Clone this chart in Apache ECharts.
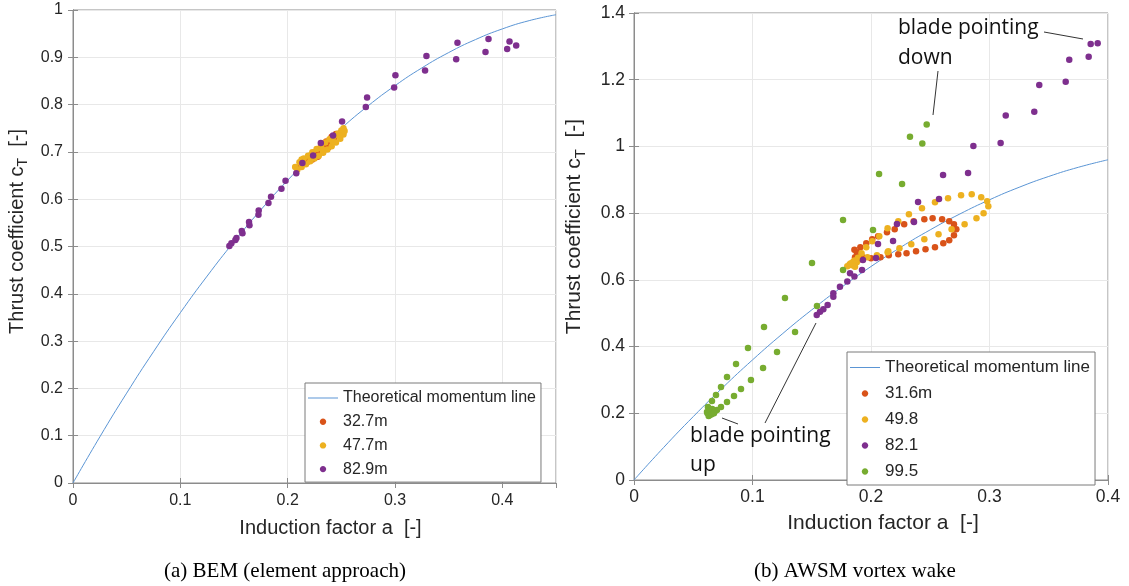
<!DOCTYPE html>
<html>
<head>
<meta charset="utf-8">
<script src="https://cdn.jsdelivr.net/npm/echarts@6/dist/echarts.min.js"></script>
<style>html,body{margin:0;padding:0;background:#fff}#c{width:1129px;height:586px}</style>
</head>
<body>
<div id="c"></div>
<script>
// ---------- Data ----------
// Theoretical momentum line: [a, cT]
const theoryLine = [[0,0],[0.025,0.0975],[0.05,0.19],[0.075,0.2775],[0.1,0.36],[0.125,0.4375],[0.15,0.51],[0.175,0.5775],[0.2,0.64],[0.225,0.6975],[0.25,0.75],[0.275,0.7975],[0.3,0.84],[0.325,0.8775],[0.35,0.91],[0.375,0.9375],[0.4,0.96],[0.425,0.9775],[0.45,0.99]];

// (a) BEM
const bemNames = ['32.7m','47.7m','82.9m'];
const bem32 = [[0.212,0.672],[0.216,0.680],[0.220,0.686],[0.224,0.692],[0.228,0.698],[0.231,0.704],[0.234,0.710],[0.237,0.716],[0.240,0.722],[0.243,0.728],[0.238,0.710],[0.233,0.700],[0.228,0.690],[0.223,0.684],[0.218,0.678],[0.226,0.700],[0.232,0.712],[0.236,0.722],[0.241,0.732],[0.245,0.738]];
const bem47 = [[0.207,0.668],[0.211,0.678],[0.215,0.686],[0.219,0.692],[0.223,0.699],[0.227,0.706],[0.231,0.713],[0.235,0.720],[0.239,0.727],[0.243,0.733],[0.247,0.739],[0.250,0.745],[0.252,0.750],
  [0.209,0.662],[0.213,0.668],[0.217,0.674],[0.221,0.680],[0.225,0.686],[0.229,0.692],[0.233,0.698],[0.237,0.705],[0.241,0.712],[0.245,0.720],[0.249,0.728],[0.252,0.737],[0.253,0.744],
  [0.213,0.684],[0.222,0.694],[0.232,0.706],[0.242,0.722],[0.248,0.735]];
const bem82 = [[0.1457,0.501],[0.1476,0.507],[0.1513,0.514],[0.1523,0.518],[0.1572,0.533],[0.1579,0.528],[0.164,0.552],[0.1644,0.545],[0.173,0.576],[0.1728,0.567],[0.1821,0.592],[0.1845,0.605],[0.1942,0.622],[0.198,0.639],
  [0.208,0.655],[0.2137,0.6765],[0.2237,0.6926],[0.2309,0.7188],[0.2423,0.7349],[0.2507,0.7645],[0.2728,0.795],[0.274,0.815],[0.2992,0.836],[0.3004,0.862],[0.328,0.872],[0.3293,0.9027],[0.357,0.896],[0.3582,0.931],[0.3843,0.911],[0.3871,0.9387],[0.4045,0.9175],[0.4067,0.9336],[0.4129,0.925]];

// (b) AWSM
const awsmNames = ['31.6m','49.8','82.1','99.5'];
const awsm31 = [[0.220,0.752],[0.228,0.767],[0.236,0.776],[0.245,0.782],[0.252,0.785],[0.260,0.782],[0.266,0.776],[0.270,0.767],[0.272,0.752],[0.270,0.734],[0.266,0.719],[0.261,0.710],[0.254,0.698],[0.246,0.692],[0.238,0.686],[0.230,0.680],[0.223,0.677],[0.215,0.674],[0.208,0.668],[0.200,0.665],[0.193,0.668],
  [0.2135,0.743],[0.206,0.731],[0.201,0.722],[0.196,0.710],[0.191,0.698],[0.188,0.683],[0.1865,0.668],[0.186,0.690],[0.1895,0.660]];
const awsm49 = [[0.254,0.833],[0.265,0.845],[0.276,0.854],[0.285,0.857],[0.293,0.848],[0.298,0.836],[0.299,0.821],[0.295,0.800],[0.289,0.785],[0.279,0.767],[0.268,0.752],[0.257,0.737],[0.245,0.722],[0.234,0.707],[0.224,0.695],[0.214,0.683],[0.205,0.674],[0.197,0.668],[0.188,0.653],[0.184,0.644],
  [0.243,0.815],[0.232,0.797],[0.223,0.776],[0.214,0.755],[0.207,0.731],[0.201,0.716],[0.196,0.698],[0.192,0.680],
  [0.182,0.647],[0.185,0.654],[0.1865,0.639],[0.180,0.641],[0.183,0.650],[0.186,0.658],[0.189,0.666],[0.2146,0.686]];
const awsm82 = [[0.3854,1.307],[0.3913,1.309],[0.3837,1.269],[0.3673,1.260],[0.3643,1.194],[0.342,1.184],[0.3378,1.104],[0.3137,1.093],[0.3094,1.010],[0.2864,1.001],
  [0.2608,0.9143],[0.2819,0.9203],[0.2397,0.8333],[0.2574,0.8423],[0.2219,0.7674],[0.2363,0.7734],[0.2186,0.7164],[0.2059,0.7074],[0.2042,0.6655],[0.1932,0.6595],[0.1924,0.6295],[0.1823,0.6196],
  [0.180,0.595],[0.186,0.610],[0.1738,0.5795],[0.1682,0.5597],[0.1682,0.5495],[0.1634,0.5246],[0.1598,0.5117],[0.157,0.5045],[0.1542,0.4946]];
const awsm99 = [[0.247,1.066],[0.2329,1.029],[0.2433,1.009],[0.2068,0.9173],[0.2262,0.8873],[0.1764,0.7794],[0.2017,0.7494],[0.1502,0.6505],[0.1764,0.6295],
  [0.1274,0.5456],[0.1544,0.5216],[0.1097,0.4586],[0.1359,0.4436],[0.0962,0.3957],[0.1207,0.3837],[0.0861,0.3477],[0.1089,0.3357],[0.0785,0.3088],[0.0987,0.2998],[0.0734,0.2788],[0.0903,0.2728],[0.0692,0.2548],[0.0844,0.2518],[0.0658,0.2368],[0.0785,0.2338],[0.0734,0.2188],[0.070,0.2098],[0.0624,0.2188],[0.0616,0.2038],[0.0641,0.1948],
  [0.062,0.200],[0.064,0.208],[0.066,0.213],[0.068,0.205],[0.063,0.192],[0.0655,0.197],[0.0675,0.200]];

const lineName = 'Theoretical momentum line';
const leftXTicks = {min:0, max:0.45, interval:0.1};
const leftYTicks = {min:0, max:1, interval:0.1};
const rightXTicks = {min:0, max:0.4, interval:0.1};
const rightYTicks = {min:0, max:1.4, interval:0.2};

// ---------- Styles ----------
const C = {red:'#D95319', yellow:'#EDB120', purple:'#7E2F8E', green:'#77AC30', line:'#5b95d4'};
const FONT = '"Liberation Sans", Arial, Helvetica, sans-serif';
const SERIF = '"Liberation Serif", "Times New Roman", serif';
const TXT = '#262626';
const BOX = '#8c8c8c';
const GRIDC = '#e8e8e8';
const DOT = 'path://M0,0L0,0M30,14L30,14M15,3.8C16.77,3.8 18.2,5.23 18.2,7C18.2,8.77 16.77,10.2 15,10.2C13.23,10.2 11.8,8.77 11.8,7C11.8,5.23 13.23,3.8 15,3.8Z';
const LINEICON = 'path://M0,0L0,0M30,14L30,14M0,6.5L30,6.5L30,7.5L0,7.5Z';

function onGrid(t) { return Math.abs(t.max/t.interval - Math.round(t.max/t.interval)) < 1e-9; }
function xAx(grid, t, fs, nameFs, nameGap, padLeft, margin) {
  return {type:'value', gridIndex:grid, min:t.min, max:t.max, interval:t.interval,
    name:'Induction factor a  [-]', nameLocation:'middle', nameGap:nameGap,
    nameTextStyle:{fontFamily:FONT, fontSize:nameFs, color:TXT, padding:[0,0,0,padLeft]},
    axisLine:{show:true, lineStyle:{color:BOX, width:1}},
    axisTick:{show:true, inside:true, length:5, lineStyle:{color:BOX}},
    axisLabel:{fontFamily:FONT, fontSize:fs, color:TXT, margin:margin, showMaxLabel: onGrid(t)},
    splitLine:{show:true, lineStyle:{color:GRIDC, width:1}}};
}
function yAx(grid, t, fs, nameFs, nameGap, padLeft, margin) {
  return {type:'value', gridIndex:grid, min:t.min, max:t.max, interval:t.interval,
    name:'Thrust coefficient c{sub|T}  [-]', nameLocation:'middle', nameGap:nameGap,
    nameTextStyle:{fontFamily:FONT, fontSize:nameFs, color:TXT, padding:[0,0,0,padLeft],
      rich:{sub:{fontFamily:FONT, fontSize:Math.round(nameFs*0.72), color:TXT, padding:[Math.round(nameFs*0.55),0,0,0]}}},
    axisLine:{show:true, lineStyle:{color:BOX, width:1}},
    axisTick:{show:true, inside:true, length:5, lineStyle:{color:BOX}},
    axisLabel:{fontFamily:FONT, fontSize:fs, color:TXT, margin:margin},
    splitLine:{show:true, lineStyle:{color:GRIDC, width:1}}};
}
function boxAx(grid, t, pos) {
  return {type:'value', gridIndex:grid, position:pos, min:t.min, max:t.max, interval:t.interval,
    axisLine:{show:true, lineStyle:{color:BOX, width:1}},
    axisTick:{show:true, inside:true, length:5, lineStyle:{color:BOX}},
    axisLabel:{show:false}, splitLine:{show:false}};
}
function scat(name, data, color, xi, yi, z) {
  return {type:'scatter', name:name, data:data, xAxisIndex:xi, yAxisIndex:yi, symbol:'circle', symbolSize:6.5,
    itemStyle:{color:color, opacity:1}, z:z, silent:true};
}

const chart = echarts.init(document.getElementById('c'), null, {renderer:'canvas'});
chart.setOption({
  animation:false,
  backgroundColor:'#fff',
  grid:[
    {left:73, top:10, width:483, height:473, show:true, borderColor:BOX, borderWidth:1, backgroundColor:'#fff'},
    {left:634, top:13, width:474, height:467, show:true, borderColor:BOX, borderWidth:1, backgroundColor:'#fff'}
  ],
  xAxis:[
    xAx(0, leftXTicks, 16, 20, 35, 32, 10),
    xAx(1, rightXTicks, 17.5, 21, 33, 24, 8),
    boxAx(0, leftXTicks, 'top'),
    boxAx(1, rightXTicks, 'top')
  ],
  yAxis:[
    yAx(0, leftYTicks, 16, 20, 43, 30, 10),
    yAx(1, rightYTicks, 17.5, 21, 46, 40, 9),
    boxAx(0, leftYTicks, 'right'),
    boxAx(1, rightYTicks, 'right')
  ],
  legend:[
    {orient:'vertical', left:305, top:383, width:230, itemWidth:30, itemHeight:14, itemGap:7.7,
     padding:[7,5,5,3], backgroundColor:'#fff', borderColor:'#7a7a7a', borderWidth:1,
     textStyle:{fontFamily:FONT, fontSize:16, color:TXT}, selectedMode:false,
     data:[{name:lineName, icon:LINEICON}].concat(bemNames.map(n=>({name:n, icon:DOT})))},
    {orient:'vertical', left:847, top:352, width:245, itemWidth:30, itemHeight:14, itemGap:9,
     padding:[7,5,5,3], backgroundColor:'#fff', borderColor:'#7a7a7a', borderWidth:1,
     textStyle:{fontFamily:FONT, fontSize:17, color:TXT}, selectedMode:false,
     data:[{name:lineName, icon:LINEICON}].concat(awsmNames.map(n=>({name:n, icon:DOT})))}
  ],
  series:[
    {type:'line', name:lineName, data:theoryLine, xAxisIndex:0, yAxisIndex:0, smooth:true, showSymbol:false, symbol:'none',
     lineStyle:{color:C.line, width:1}, itemStyle:{color:C.line}, z:2, silent:true},
    scat(bemNames[0], bem32, C.red, 0, 0, 3),
    scat(bemNames[1], bem47, C.yellow, 0, 0, 4),
    scat(bemNames[2], bem82, C.purple, 0, 0, 5),
    {type:'line', name:lineName, data:theoryLine.filter(p=>p[0]<=0.4), xAxisIndex:1, yAxisIndex:1, smooth:true, showSymbol:false, symbol:'none',
     lineStyle:{color:C.line, width:1}, itemStyle:{color:C.line}, z:2, silent:true},
    scat(awsmNames[0], awsm31, C.red, 1, 1, 3),
    scat(awsmNames[1], awsm49, C.yellow, 1, 1, 4),
    scat(awsmNames[2], awsm82, C.purple, 1, 1, 5),
    scat(awsmNames[3], awsm99, C.green, 1, 1, 6)
  ],
  graphic:[
    {type:'text', position:[898,13], style:{text:'blade pointing\ndown', fontFamily:'"Open Sans", sans-serif', fontSize:21, lineHeight:30, fill:'#111'}, z:100},
    {type:'text', position:[690,422], style:{text:'blade pointing\nup', fontFamily:'"Open Sans", sans-serif', fontSize:21, lineHeight:29, fill:'#111'}, z:100},
    {type:'line', shape:{x1:1044, y1:32, x2:1083, y2:39}, style:{stroke:'#333', lineWidth:1}, z:100},
    {type:'line', shape:{x1:938, y1:71, x2:933, y2:115}, style:{stroke:'#333', lineWidth:1}, z:100},
    {type:'line', shape:{x1:722, y1:418, x2:738, y2:424}, style:{stroke:'#333', lineWidth:1}, z:100},
    {type:'line', shape:{x1:765, y1:423, x2:816, y2:323}, style:{stroke:'#333', lineWidth:1}, z:100},
    {type:'text', position:[285,561], style:{text:'(a) BEM (element approach)', fontFamily:SERIF, fontSize:21, fill:'#000', align:'center'}, z:100},
    {type:'text', position:[855,561], style:{text:'(b) AWSM vortex wake', fontFamily:SERIF, fontSize:21, fill:'#000', align:'center'}, z:100}
  ]
});
</script>
</body>
</html>
